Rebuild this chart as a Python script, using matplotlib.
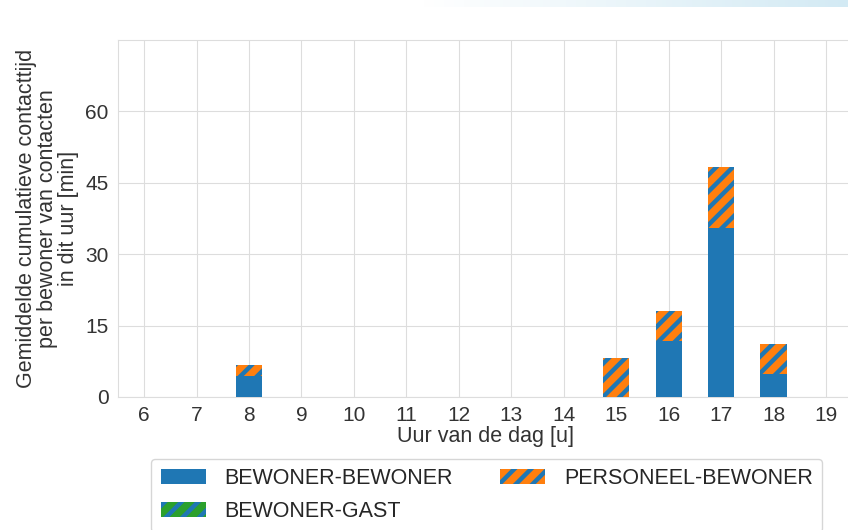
import numpy as np
import matplotlib.pyplot as plt
from matplotlib.colors import LinearSegmentedColormap
import seaborn as sns

sns.set_style("whitegrid")
plt.rcParams['font.family'] = ['Liberation Sans', 'DejaVu Sans']
plt.rcParams['hatch.linewidth'] = 3.2

# data
hours = [6, 7, 8, 9, 10, 11, 12, 13, 14, 15, 16, 17, 18, 19]
bewoner_bewoner = [0, 0, 4.4, 0, 0, 0, 0, 0, 0, 0, 11.8, 35.4, 4.8, 0]
personeel_bewoner = [0, 0, 2.3, 0, 0, 0, 0, 0, 0, 8.2, 6.3, 12.8, 6.4, 0]
bewoner_gast = [0, 0, 0, 0, 0, 0, 0, 0, 0, 0, 0, 0, 0, 0]

blue = '#1f77b4'
orange = '#ff7f0e'
green = '#2ca02c'
txt = '#333333'
fs = 15.5

fig = plt.figure(figsize=(8.48, 5.30), dpi=100)

# faint screenshot tint along the top edge
bg = fig.add_axes([0, 0.987, 1, 0.013])
tint = LinearSegmentedColormap.from_list('tint', ['#ffffff', '#ffffff', '#d3eaf4'])
bg.imshow(np.linspace(0, 1, 256).reshape(1, -1), aspect='auto', cmap=tint,
          extent=[0, 1, 0, 1])
bg.axis('off')

ax = fig.add_axes([0.139, 0.251, 0.866, 0.674])

ax.bar(hours, bewoner_bewoner, width=0.5, color=blue, linewidth=0,
       label='BEWONER-BEWONER', zorder=3)
bottom2 = bewoner_bewoner
ax.bar(hours, bewoner_gast, width=0.5, bottom=bottom2, facecolor=green,
       edgecolor=blue, hatch='//', linewidth=0, label='BEWONER-GAST', zorder=3)
bottom3 = [a + b for a, b in zip(bewoner_bewoner, bewoner_gast)]
ax.bar(hours, personeel_bewoner, width=0.5, bottom=bottom3, facecolor=orange,
       edgecolor=blue, hatch='//', linewidth=0, label='PERSONEEL-BEWONER', zorder=3)

ax.set_xlim(5.5, 19.5)
ax.set_ylim(0, 75)
ax.set_xticks(hours)
ax.set_yticks([0, 15, 30, 45, 60])
ax.tick_params(labelsize=15, colors=txt, pad=3)
for s in ax.spines.values():
    s.set_color('#dddddd')
ax.grid(color='#dddddd')

ax.set_xlabel('Uur van de dag [u]', fontsize=fs, color=txt, labelpad=1)
ax.set_ylabel('Gemiddelde cumulatieve contacttijd\nper bewoner van contacten\nin dit uur [min]',
              fontsize=fs, color=txt, labelpad=5, linespacing=1.0)

h, l = ax.get_legend_handles_labels()
fig.legend(h, l, loc='upper center',
           bbox_to_anchor=(0.574, 0.155), ncol=2, fontsize=fs, frameon=True,
           handlelength=2.1, handleheight=0.7, columnspacing=2.2, labelspacing=0.55,
           handletextpad=0.85, borderpad=0.45, edgecolor='#cccccc')

fig.savefig('out.png', dpi=100)
